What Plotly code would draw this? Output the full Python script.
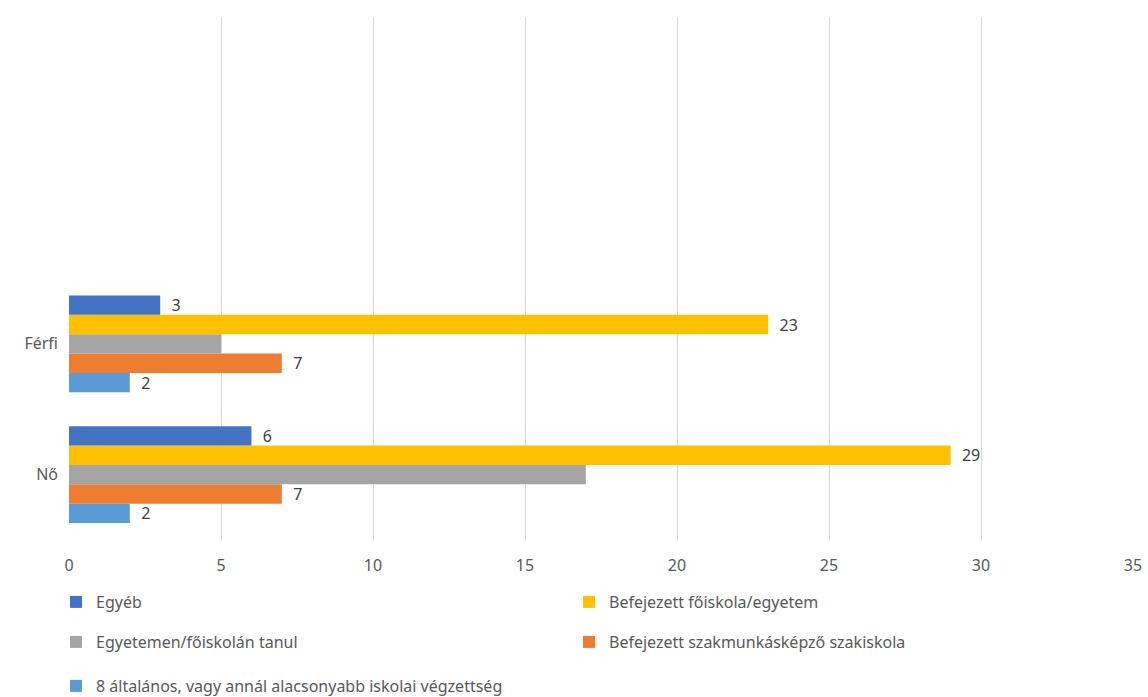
import plotly.graph_objects as go

categories = ["Nő", "Férfi"]
series_names = [
    "Egyéb",
    "Befejezett főiskola/egyetem",
    "Egyetemen/főiskolán tanul",
    "Befejezett szakmunkásképző szakiskola",
    "8 általános, vagy annál alacsonyabb iskolai végzettség",
]
# values in order [Nő, Férfi]
egyeb = [6, 3]
befejezett_foiskola = [29, 23]
egyetemen_tanul = [17, 5]
szakmunkas = [7, 7]
nyolc_altalanos = [2, 2]

colors = {
    "Egyéb": "#4472C4",
    "Befejezett főiskola/egyetem": "#FFC000",
    "Egyetemen/főiskolán tanul": "#A5A5A5",
    "Befejezett szakmunkásképző szakiskola": "#ED7D31",
    "8 általános, vagy annál alacsonyabb iskolai végzettség": "#5B9BD5",
}
values = {
    "Egyéb": egyeb,
    "Befejezett főiskola/egyetem": befejezett_foiskola,
    "Egyetemen/főiskolán tanul": egyetemen_tanul,
    "Befejezett szakmunkásképző szakiskola": szakmunkas,
    "8 általános, vagy annál alacsonyabb iskolai végzettség": nyolc_altalanos,
}
show_labels = {
    "Egyéb": True,
    "Befejezett főiskola/egyetem": True,
    "Egyetemen/főiskolán tanul": False,
    "Befejezett szakmunkásképző szakiskola": True,
    "8 általános, vagy annál alacsonyabb iskolai végzettség": True,
}
legend_of = {
    "Egyéb": "legend",
    "Befejezett főiskola/egyetem": "legend",
    "Egyetemen/főiskolán tanul": "legend2",
    "Befejezett szakmunkásképző szakiskola": "legend2",
    "8 általános, vagy annál alacsonyabb iskolai végzettség": "legend3",
}

FONT = "Noto Sans"
fig = go.Figure()
# plotly draws first trace at bottom of group -> add in reverse
for name in reversed(series_names):
    fig.add_trace(go.Bar(
        y=categories,
        x=values[name],
        name=name,
        orientation="h",
        marker=dict(color=colors[name], line=dict(width=0)),
        texttemplate="  %{x}" if show_labels[name] else "",
        textposition="outside",
        constraintext="none",
        textfont=dict(family=FONT, size=16, color="#404040"),
        cliponaxis=False,
        legend=legend_of[name],
    ))

L, R, T, B = 69, 15, 17, 157
W, H = 1148, 697
ph = H - T - B
pw = W - L - R

def ly(px):
    return (H - B - px) / ph

def lx(px):
    return (px - L) / pw

leg_common = dict(
    orientation="h",
    xanchor="left",
    yanchor="middle",
    traceorder="reversed",
    entrywidth=468,
    entrywidthmode="pixels",
    itemwidth=30,
    font=dict(family=FONT, size=16, color="#595959"),
    bgcolor="rgba(0,0,0,0)",
)

fig.update_layout(
    width=W,
    height=H,
    margin=dict(l=L, r=R, t=T, b=B, pad=0, autoexpand=False),
    paper_bgcolor="white",
    plot_bgcolor="white",
    barmode="group",
    bargap=0.26,
    bargroupgap=0,
    uniformtext=dict(mode=False),
    font=dict(family=FONT, size=16, color="#595959"),
    xaxis=dict(
        range=[0, 35],
        dtick=5,
        tick0=0,
        showgrid=True,
        gridcolor="#D9D9D9",
        gridwidth=1,
        zeroline=False,
        showline=False,
        ticks="",
        tickfont=dict(family=FONT, size=16, color="#595959"),
        ticklabelstandoff=14,
        fixedrange=True,
    ),
    yaxis=dict(
        type="category",
        categoryorder="array",
        categoryarray=categories,
        range=[-0.5, 3.5],
        showgrid=False,
        zeroline=False,
        showline=False,
        ticks="",
        ticklabelstandoff=10,
        tickfont=dict(family=FONT, size=16, color="#595959"),
    ),
    legend=dict(leg_common, x=lx(56), y=ly(602)),
    legend2=dict(leg_common, x=lx(56), y=ly(642)),
    legend3=dict(leg_common, x=lx(56), y=ly(686)),
    showlegend=True,
)

fig.write_html("out.html")
